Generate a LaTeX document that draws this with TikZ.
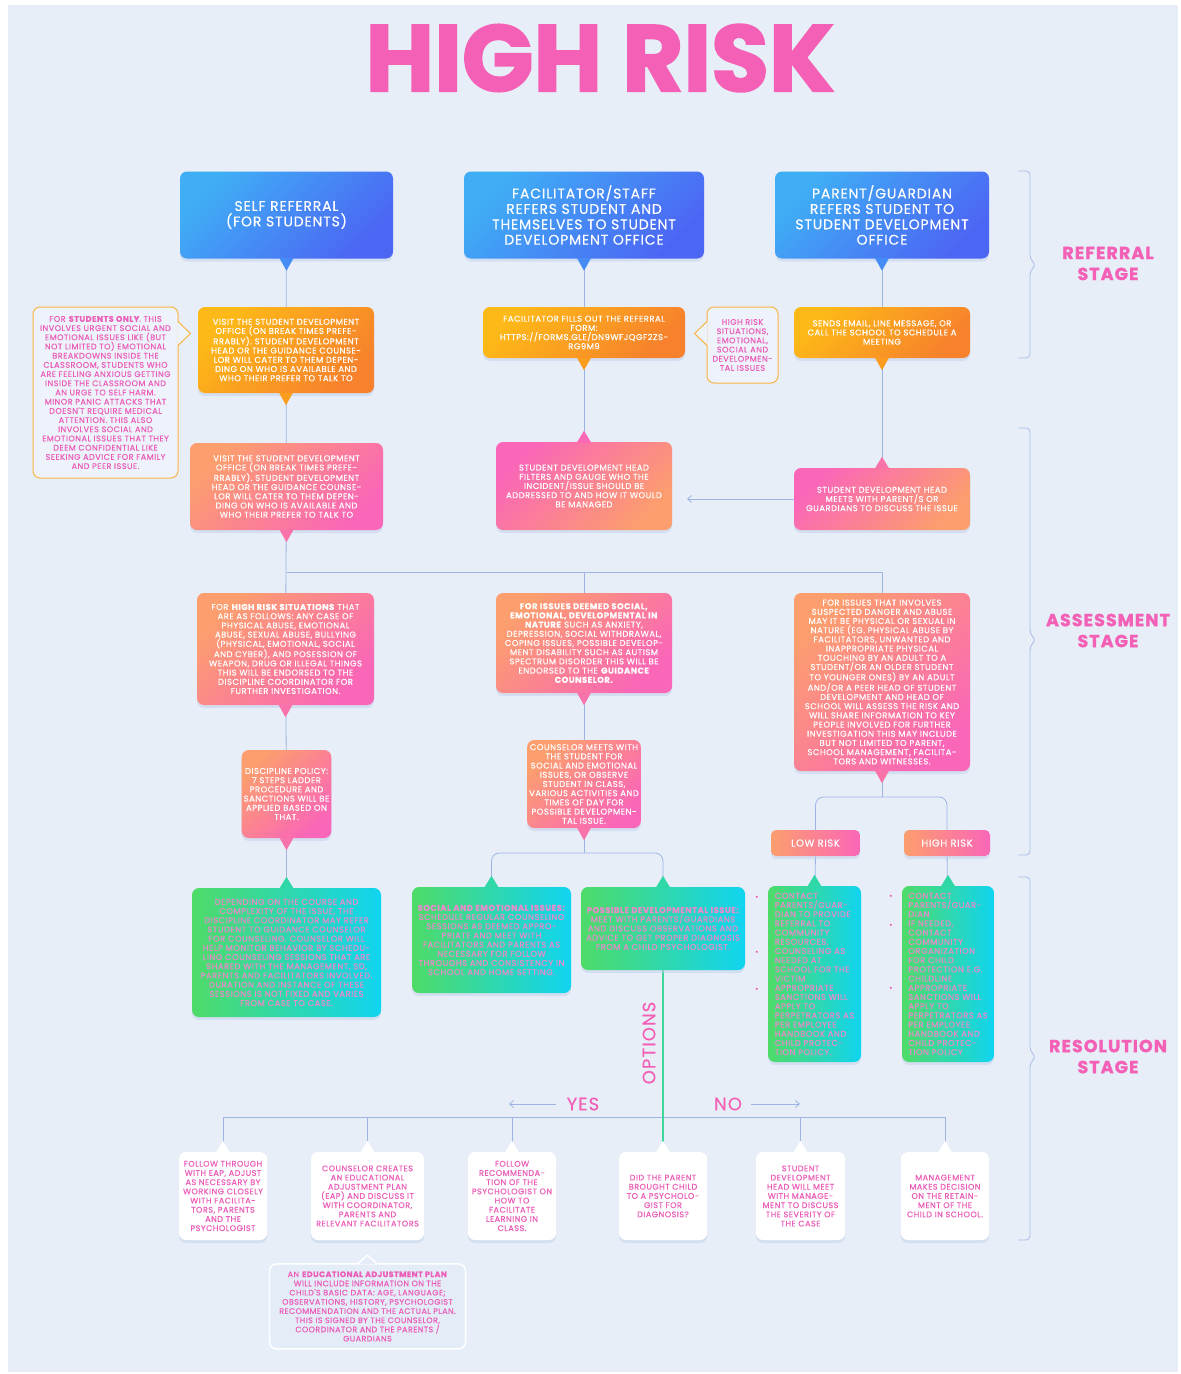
\documentclass[tikz,border=0pt]{standalone}
\usepackage{fontspec}
\setmainfont{Poppins}
\newfontfamily\boxfont[LetterSpace=6, FakeBold=0.4]{Poppins}
\newfontfamily\greenfont[LetterSpace=6, FakeBold=0.1]{Poppins}
\newfontfamily\headfont[LetterSpace=6, FakeBold=0.3]{Poppins}
\newfontfamily\titlefont[BoldFeatures={FakeBold=2}]{Poppins}
\newfontfamily\stagefont[LetterSpace=6, BoldFeatures={FakeBold=1.2}]{Poppins}
\usetikzlibrary{positioning,arrows.meta,calc,shadows}
\pgfdeclarelayer{back}
\pgfdeclarelayer{bg}
\pgfsetlayers{back,bg,main}

\definecolor{pagebg}{HTML}{E7EEF8}
\definecolor{titlepink}{HTML}{F360B6}
\definecolor{textpink}{HTML}{EB5DB8}
\definecolor{greentext}{HTML}{EA8CCB}
\definecolor{blueL}{HTML}{3FAEF5}
\definecolor{blueD}{HTML}{4C66F4}
\definecolor{orgL}{HTML}{FDB917}
\definecolor{orgD}{HTML}{F7812C}
\definecolor{pinkA}{HTML}{FA66B8}
\definecolor{peach}{HTML}{FC9E6E}
\definecolor{grnL}{HTML}{4EDB68}
\definecolor{cyanR}{HTML}{10D4F0}
\definecolor{linkc}{HTML}{9DB4E4}
\definecolor{greenlinkc}{HTML}{3FD69A}
\definecolor{bracketc}{HTML}{A8BCE9}
\definecolor{shadowc}{HTML}{C3D0EC}
\definecolor{memoline}{HTML}{F8B545}
\definecolor{memofill}{HTML}{EEF3FB}
\definecolor{planfill}{HTML}{E4ECF8}
\definecolor{tipblue}{HTML}{458DF5}
\definecolor{tiporange}{HTML}{F99C20}
\definecolor{tippink}{HTML}{F873AA}
\definecolor{tipgreen}{HTML}{30D8A8}

% pointer triangles under / over a box
\newcommand{\tipdown}[2]{\fill[#2] ($(#1.south)+(-7,-0.5)$) -- ($(#1.south)+(0,12)$) -- ($(#1.south)+(7,-0.5)$) -- cycle;}
\newcommand{\tipup}[2]{\fill[#2] ($(#1.north)+(-7,0.5)$) -- ($(#1.north)+(0,-11)$) -- ($(#1.north)+(7,0.5)$) -- cycle;}

\begin{document}
\begin{tikzpicture}[
	x = 1pt, y = -1pt,
	>= {Straight Barb[length=4pt,width=7pt]},
	box/.style = {
		rounded corners = 7pt,
		align = center,
		inner sep = 2pt,
		text = white,
		font = {\boxfont\fontsize{8.4}{9.2}\selectfont},
		drop shadow = {shadow xshift=0pt, shadow yshift=-3pt, fill=shadowc, opacity=0.5}
	},
	referral/.style = {box, top color = blueL, bottom color = blueD, shading angle = 45,
		font = {\headfont\fontsize{14}{15.4}\selectfont}},
	action/.style = {box, top color = orgL, bottom color = orgD, shading angle = 45},
	assess/.style = {box, top color = peach, bottom color = pinkA, shading angle = 45},
	assessrev/.style = {box, top color = pinkA, bottom color = peach, shading angle = 45},
	pill/.style = {box, left color = peach, right color = pinkA, rounded corners = 5pt,
		font = {\boxfont\fontsize{10}{11}\selectfont}},
	resolve/.style = {box, left color = grnL, right color = cyanR, text = greentext,
		font = {\greenfont\fontsize{8.4}{9.2}\selectfont}},
	option/.style = {box, fill = white, text = textpink, font = {\boxfont\fontsize{8.1}{9.2}\selectfont}},
	memo/.style = {
		rounded corners = 7pt,
		draw = memoline,
		line width = 1pt,
		fill = memofill,
		text = textpink,
		align = center,
		inner sep = 2pt,
		font = {\boxfont\fontsize{8.1}{9.2}\selectfont}
	},
	plan/.style = {memo, draw = white, line width = 1.5pt, fill = planfill, font = {\boxfont\fontsize{7.9}{9.2}\selectfont}},
	choice/.style = {text = titlepink, font = {\headfont\fontsize{18}{20}\selectfont}},
	stage/.style = {text = titlepink, align = center, font = {\stagefont\bfseries\fontsize{17.5}{21}\selectfont}},
	link/.style = {draw = linkc, line width = 0.8pt},
	greenlink/.style = {draw = greenlinkc, line width = 1.2pt},
	bracket/.style = {draw = bracketc, line width = 0.8pt, rounded corners = 4pt}
	]

	\begin{pgfonlayer}{back}
		\fill[white] (0,0) rectangle (1181,1374);
		\fill[pagebg] (8,5) rectangle (1178,1372);
	\end{pgfonlayer}
	\useasboundingbox (0,0) rectangle (1181,1374);

	\node[text = titlepink, font = {\titlefont\bfseries\fontsize{94}{94}\selectfont}] (title) at (600,58) {HIGH RISK};

	% referral stage
	\node[referral, minimum width = 213pt, minimum height = 87pt] (self) at (286.5,215) {SELF REFERRAL\\(FOR STUDENTS)};
	\node[referral, minimum width = 240pt, minimum height = 87pt] (staff) at (584,215) {FACILITATOR/STAFF\\REFERS STUDENT AND\\THEMSELVES TO STUDENT\\DEVELOPMENT OFFICE};
	\node[referral, minimum width = 214pt, minimum height = 87pt] (parent) at (882,215) {PARENT/GUARDIAN\\REFERS STUDENT TO\\STUDENT DEVELOPMENT\\OFFICE};

	\node[action, minimum width = 176pt, minimum height = 86pt] (visit) at (286,350) {VISIT THE STUDENT DEVELOPMENT\\OFFICE (ON BREAK TIMES PREFE-\\RRABLY). STUDENT DEVELOPMENT\\HEAD OR THE GUIDANCE COUNSE-\\LOR WILL CATER TO THEM DEPEN-\\DING ON WHO IS AVAILABLE AND\\WHO THEIR PREFER TO TALK TO};
	\node[action, minimum width = 202pt, minimum height = 51pt] (form) at (584,332.5) {FACILITATOR FILLS OUT THE REFERRAL\\FORM:\\HTTPS://FORMS.GLE/DN9WFJQGF2ZS-\\RG9M9};
	\node[action, minimum width = 176pt, minimum height = 51pt] (mail) at (882,332.5) {SENDS EMAIL, LINE MESSAGE, OR\\CALL THE SCHOOL TO SCHEDULE A\\MEETING};

	\node[memo, minimum width = 145pt, minimum height = 171pt] (studnote) at (105.5,392.5) {FOR \textbf{STUDENTS ONLY}. THIS\\INVOLVES URGENT SOCIAL AND\\EMOTIONAL ISSUES LIKE (BUT\\NOT LIMITED TO) EMOTIONAL\\BREAKDOWNS INSIDE THE\\CLASSROOM, STUDENTS WHO\\ARE FEELING ANXIOUS GETTING\\INSIDE THE CLASSROOM AND\\AN URGE TO SELF HARM.\\MINOR PANIC ATTACKS THAT\\DOESN'T REQUIRE MEDICAL\\ATTENTION. THIS ALSO\\INVOLVES SOCIAL AND\\EMOTIONAL ISSUES THAT THEY\\DEEM CONFIDENTIAL LIKE\\SEEKING ADVICE FOR FAMILY\\AND PEER ISSUE.};
	\node[memo, minimum width = 71pt, minimum height = 76pt] (risknote) at (742.5,345) {HIGH RISK\\SITUATIONS,\\EMOTIONAL,\\SOCIAL AND\\DEVELOPMEN-\\TAL ISSUES};

	% assessment stage
	\node[assess, minimum width = 193pt, minimum height = 87pt] (visitagain) at (286.5,486.5) {VISIT THE STUDENT DEVELOPMENT\\OFFICE (ON BREAK TIMES PREFE-\\RRABLY). STUDENT DEVELOPMENT\\HEAD OR THE GUIDANCE COUNSE-\\LOR WILL CATER TO THEM DEPEN-\\DING ON WHO IS AVAILABLE AND\\WHO THEIR PREFER TO TALK TO};
	\node[assessrev, minimum width = 176pt, minimum height = 88pt] (filter) at (584,486) {STUDENT DEVELOPMENT HEAD\\FILTERS AND GAUGE WHO THE\\INCIDENT/ISSUE SHOULD BE\\ADDRESSED TO AND HOW IT WOULD\\BE MANAGED};
	\node[assessrev, minimum width = 176pt, minimum height = 62pt] (meet) at (882,499) {STUDENT DEVELOPMENT HEAD\\MEETS WITH PARENT/S OR\\GUARDIANS TO DISCUSS THE ISSUE};

	\node[assess, minimum width = 177pt, minimum height = 112pt] (highsit) at (285.5,649) {FOR \textbf{HIGH RISK SITUATIONS} THAT\\ARE AS FOLLOWS: ANY CASE OF\\PHYSICAL ABUSE, EMOTIONAL\\ABUSE, SEXUAL ABUSE, BULLYING\\(PHYSICAL, EMOTIONAL, SOCIAL\\AND CYBER), AND POSESSION OF\\WEAPON, DRUG OR ILLEGAL THINGS\\THIS WILL BE ENDORSED TO THE\\DISCIPLINE COORDINATOR FOR\\FURTHER INVESTIGATION.};
	\node[assess, minimum width = 176pt, minimum height = 100pt] (issues) at (584,643) {\textbf{FOR ISSUES DEEMED SOCIAL,}\\\textbf{EMOTIONAL, DEVELOPMENTAL IN}\\\textbf{NATURE} SUCH AS ANXIETY,\\DEPRESSION, SOCIAL WITHDRAWAL,\\COPING ISSUES, POSSIBLE DEVELOP-\\MENT DISABILITY SUCH AS AUTISM\\SPECTRUM DISORDER THIS WILL BE\\ENDORSED TO THE \textbf{GUIDANCE}\\\textbf{COUNSELOR.}};
	\node[assess, minimum width = 176pt, minimum height = 178pt] (danger) at (882,682) {FOR ISSUES THAT INVOLVES\\SUSPECTED DANGER AND ABUSE\\MAY IT BE PHYSICAL OR SEXUAL IN\\NATURE (EG. PHYSICAL ABUSE BY\\FACILITATORS, UNWANTED AND\\INAPPROPRIATE PHYSICAL\\TOUCHING BY AN ADULT TO A\\STUDENT/OR AN OLDER STUDENT\\TO YOUNGER ONES) BY AN ADULT\\AND/OR A PEER HEAD OF STUDENT\\DEVELOPMENT AND HEAD OF\\SCHOOL WILL ASSESS THE RISK AND\\WILL SHARE INFORMATION TO KEY\\PEOPLE INVOLVED FOR FURTHER\\INVESTIGATION THIS MAY INCLUDE\\BUT NOT LIMITED TO PARENT,\\SCHOOL MANAGEMENT, FACILITA-\\TORS AND WITNESSES.};

	\node[assess, minimum width = 87pt, minimum height = 88pt] (ladder) at (286.5,794) {DISCIPLINE POLICY:\\7 STEPS LADDER\\PROCEDURE AND\\SANCTIONS WILL BE\\APPLIED BASED ON\\THAT.};
	\node[assess, minimum width = 112pt, minimum height = 88pt] (counsel) at (584,784) {COUNSELOR MEETS WITH\\THE STUDENT FOR\\SOCIAL AND EMOTIONAL\\ISSUES, OR OBSERVE\\STUDENT IN CLASS,\\VARIOUS ACTIVITIES AND\\TIMES OF DAY FOR\\POSSIBLE DEVELOPMEN-\\TAL ISSUE.};

	\node[pill, minimum width = 89pt, minimum height = 26pt] (lowrisk) at (815.5,843) {LOW RISK};
	\node[pill, minimum width = 86pt, minimum height = 26pt] (highrisk) at (947,843) {HIGH RISK};

	% resolution stage
	\node[resolve, minimum width = 189pt, minimum height = 129pt] (monitor) at (286.5,952.5) {DEPENDING ON THE COURSE AND\\COMPLEXITY OF THE ISSUE, THE\\DISCIPLINE COORDINATOR MAY REFER\\STUDENT TO GUIDANCE COUNSELOR\\FOR COUNSELING. COUNSELOR WILL\\HELP MONITOR BEHAVIOR BY SCHEDU-\\LING COUNSELING SESSIONS THAT ARE\\SHARED WITH THE MANAGEMENT, SD,\\PARENTS AND FACILITATORS INVOLVED.\\DURATION AND INSTANCE OF THESE\\SESSIONS IS NOT FIXED AND VARIES\\FROM CASE TO CASE.};
	\node[resolve, minimum width = 159pt, minimum height = 106pt] (sessions) at (491.5,940) {\textbf{SOCIAL AND EMOTIONAL ISSUES:}\\SCHEDULE REGULAR COUNSELING\\SESSIONS AS DEEMED APPRO-\\PRIATE AND MEET WITH\\FACILITATORS AND PARENTS AS\\NECESSARY FOR FOLLOW\\THROUGHS AND CONSISTENCY IN\\SCHOOL AND HOME SETTING.};
	\node[resolve, minimum width = 164pt, minimum height = 83pt] (diagnosis) at (663,928.5) {\textbf{POSSIBLE DEVELOPMENTAL ISSUE:}\\MEET WITH PARENTS/GUARDIANS\\AND DISCUSS OBSERVATIONS AND\\ADVICE TO GET PROPER DIAGNOSIS\\FROM A CHILD PSYCHOLOGIST.};
	\node[resolve, align = left, minimum width = 93pt, minimum height = 176pt] (lowsteps) at (814.5,974) {CONTACT\\PARENTS/GUAR-\\DIAN TO PROVIDE\\REFERRAL TO\\COMMUNITY\\RESOURCES.\\COUNSELING AS\\NEEDED AT\\SCHOOL FOR THE\\VICTIM\\APPROPRIATE\\SANCTIONS WILL\\APPLY TO\\PERPETRATORS AS\\PER EMPLOYEE\\HANDBOOK AND\\CHILD PROTEC-\\TION POLICY.};
	\node[resolve, align = left, minimum width = 92pt, minimum height = 176pt] (highsteps) at (948,974) {CONTACT\\PARENTS/GUAR-\\DIAN\\IF NEEDED,\\CONTACT\\COMMUNITY\\ORGANIZATION\\FOR CHILD\\PROTECTION E.G.\\CHILDLINE\\APPROPRIATE\\SANCTIONS WILL\\APPLY TO\\PERPETRATORS AS\\PER EMPLOYEE\\HANDBOOK AND\\CHILD PROTEC-\\TION POLICY};

	\node[choice, rotate = 90] (options) at (649,1043) {OPTIONS};
	\node[choice, inner xsep = 11pt] (yes) at (583,1104) {YES};
	\node[choice, inner xsep = 9pt] (no) at (728,1104) {NO};
	\coordinate (yesend) at (509,1104);
	\coordinate (noend) at (800,1104);

	\node[option, minimum width = 88pt, minimum height = 88pt] (eapfollow) at (223,1196) {FOLLOW THROUGH\\WITH EAP, ADJUST\\AS NECESSARY BY\\WORKING CLOSELY\\WITH FACILITA-\\TORS, PARENTS\\AND THE\\PSYCHOLOGIST};
	\node[option, minimum width = 113pt, minimum height = 88pt] (eap) at (367.5,1196) {COUNSELOR CREATES\\AN EDUCATIONAL\\ADJUSTMENT PLAN\\(EAP) AND DISCUSS IT\\WITH COORDINATOR,\\PARENTS AND\\RELEVANT FACILITATORS};
	\node[option, minimum width = 88pt, minimum height = 88pt] (recommend) at (512,1196) {FOLLOW\\RECOMMENDA-\\TION OF THE\\PSYCHOLOGIST ON\\HOW TO\\FACILITATE\\LEARNING IN\\CLASS.};
	\node[option, minimum width = 88pt, minimum height = 88pt] (question) at (663,1196) {DID THE PARENT\\BROUGHT CHILD\\TO A PSYCHOLO-\\GIST FOR\\DIAGNOSIS?};
	\node[option, minimum width = 89pt, minimum height = 88pt] (severity) at (800.5,1196) {STUDENT\\DEVELOPMENT\\HEAD WILL MEET\\WITH MANAGE-\\MENT TO DISCUSS\\THE SEVERITY OF\\THE CASE};
	\node[option, minimum width = 88pt, minimum height = 88pt] (retain) at (945,1196) {MANAGEMENT\\MAKES DECISION\\ON THE RETAIN-\\MENT OF THE\\CHILD IN SCHOOL.};

	\node[plan, minimum width = 196pt, minimum height = 85pt, below = 23pt of eap] (eapnote) {AN \textbf{EDUCATIONAL ADJUSTMENT PLAN}\\WILL INCLUDE INFORMATION ON THE\\CHILD'S BASIC DATA: AGE, LANGUAGE;\\OBSERVATIONS, HISTORY, PSYCHOLOGIST\\RECOMMENDATION AND THE ACTUAL PLAN.\\THIS IS SIGNED BY THE COUNSELOR,\\COORDINATOR AND THE PARENTS /\\GUARDIANS};

	% pointers
	\tipdown{self}{tipblue}
	\tipdown{staff}{tipblue}
	\tipdown{parent}{tipblue}
	\tipdown{visit}{tiporange}
	\tipdown{form}{tiporange}
	\tipdown{mail}{tiporange}
	\tipdown{visitagain}{tippink}
	\tipup{filter}{pinkA}
	\tipup{meet}{tippink}
	\tipdown{highsit}{tippink}
	\tipdown{issues}{tippink}
	\tipdown{danger}{tippink}
	\tipdown{ladder}{tippink}
	\tipdown{counsel}{tippink}
	\tipup{monitor}{tipgreen}
	\tipup{sessions}{tipgreen}
	\tipup{diagnosis}{tipgreen}
	\tipup{lowsteps}{tipgreen}
	\tipup{highsteps}{tipgreen}
	\foreach \b in {eapfollow,eap,recommend,question,severity,retain}
		\tipup{\b}{white};
	\fill[planfill] ($(eapnote.north)+(-8,1)$) -- ($(eapnote.north)+(0,-8)$) -- ($(eapnote.north)+(8,1)$) -- cycle;
	\draw[white, line width = 1.5pt] ($(eapnote.north)+(-9,0)$) -- ($(eapnote.north)+(0,-8)$) -- ($(eapnote.north)+(9,0)$);

	% memo pointers
	\fill[memofill] ($(studnote.north east)+(-1.2,15)$) -- ($(studnote.north east)+(12,27)$) -- ($(studnote.north east)+(-1.2,39)$) -- cycle;
	\draw[memoline, line width = 1pt] ($(studnote.north east)+(-0.5,15)$) -- ($(studnote.north east)+(12,27)$) -- ($(studnote.north east)+(-0.5,39)$);
	\fill[memofill] ($(risknote.north west)+(1.2,15)$) -- ($(risknote.north west)+(-12,27)$) -- ($(risknote.north west)+(1.2,39)$) -- cycle;
	\draw[memoline, line width = 1pt] ($(risknote.north west)+(0.5,15)$) -- ($(risknote.north west)+(-12,27)$) -- ($(risknote.north west)+(0.5,39)$);

	% bullets
	\foreach \dy in {11,66,103}
		\fill[textpink] ($(lowsteps.north west)+(-11,\dy)$) circle (1.2pt);
	\foreach \dy in {10,39,102}
		\fill[textpink] ($(highsteps.north west)+(-11,\dy)$) circle (1.2pt);

	% stage brackets
	\draw[bracket] (1018,171) -- (1030,171) -- (1030,259) -- (1036,265) -- (1030,271) -- (1030,358) -- (1018,358);
	\draw[bracket] (1018,428) -- (1030,428) -- (1030,634) -- (1036,640) -- (1030,646) -- (1030,855) -- (1018,855);
	\draw[bracket] (1018,877) -- (1030,877) -- (1030,1051) -- (1036,1057) -- (1030,1063) -- (1030,1240) -- (1018,1240);
	\node[stage] (referralstage) at (1108,263.5) {REFERRAL\\STAGE};
	\node[stage] (assessstage) at (1108,630.5) {ASSESSMENT\\STAGE};
	\node[stage] (resolvestage) at (1108,1056.5) {RESOLUTION\\STAGE};

	% connectors
	\coordinate (hub) at (286.5,572);
	\coordinate (split) at (882,797);
	\coordinate (fork) at (584,853);
	\coordinate (opt) at (663,1117);
	\coordinate (meetend) at (687,499);
	\begin{pgfonlayer}{bg}
		\draw[link] (self) -- (visit);
		\draw[link] (visit) -- (visitagain);
		\draw[link] (staff) -- (form);
		\draw[link] (form) -- (filter);
		\draw[link] (parent) -- (mail);
		\draw[link] (mail) -- (meet);
		\draw[link, ->] (meet.west) -- (meetend);
		\draw[link] (visitagain) -- (highsit);
		\draw[link] (hub) -| (issues);
		\draw[link] (hub) -| (danger);
		\draw[link] (highsit) -- (ladder);
		\draw[link] (ladder) -- (monitor);
		\draw[link] (issues) -- (counsel);
		\draw[link] (counsel) -- (fork);
		\draw[link, rounded corners = 8pt] (sessions) |- (fork) -| (diagnosis);
		\draw[link] (danger) -- (split);
		\draw[link, rounded corners = 8pt] (lowrisk) |- (split) -| (highrisk);
		\draw[link] (lowrisk) -- (lowsteps);
		\draw[link] (highrisk) -- (highsteps);
		\foreach \b in {eapfollow,eap,recommend,severity,retain}
			\draw[link] (opt) -| (\b);
		\draw[greenlink] (diagnosis) -- (question);
		\draw[link, ->] (yes.west) -- (yesend);
		\draw[link, ->] (no.east) -- (noend);
	\end{pgfonlayer}

\end{tikzpicture}
\end{document}
